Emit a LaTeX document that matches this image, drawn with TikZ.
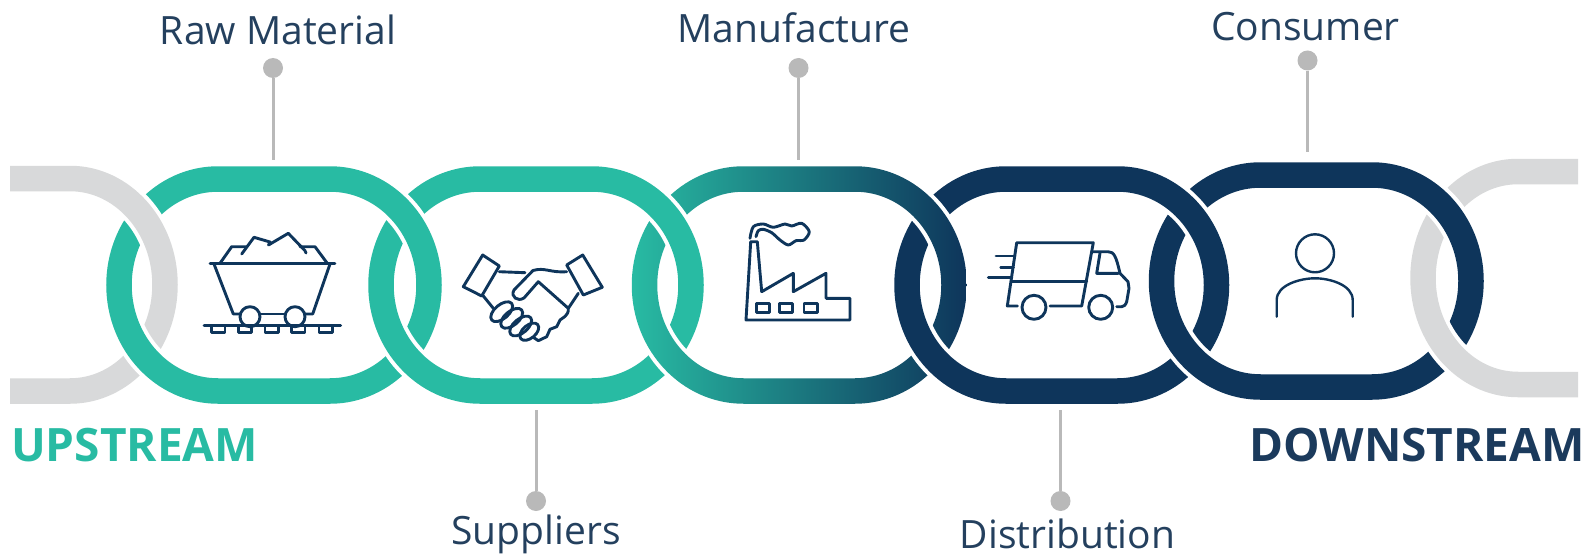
\documentclass[tikz,border=0pt]{standalone}
\usepackage{fontspec}
\setmainfont{Open Sans}
\usepackage{xcolor}
\usetikzlibrary{positioning}
\definecolor{linkteal}{HTML}{28BBA3}
\definecolor{linknavy}{HTML}{0E355B}
\definecolor{linkmid}{HTML}{1A6A7A}
\definecolor{linkgrey}{HTML}{D8D9DA}
\definecolor{labelink}{HTML}{24405E}
\definecolor{downink}{HTML}{1B3A5C}
\definecolor{leadgrey}{HTML}{B9B9B9}
\tikzset{
    steplabel/.style={text=labelink,font=\fontsize{39}{44}\selectfont,inner sep=0pt},
    endlabel/.style={font=\fontsize{46}{50}\selectfont\bfseries,inner sep=0pt},
    leaddot/.style={circle,fill=leadgrey,minimum size=20pt,inner sep=0pt},
    leader/.style={draw=leadgrey,line width=3pt},
    halo/.style={draw=white,line width=33.5pt},
    band/.style={line width=25.5pt},
    icon/.style={draw=linknavy,line width=2.9pt,line join=round,line cap=round},
}
\newcommand{\linkpath}[5]{(#1+#5,#3) -- (#2-#5,#3) arc[start angle=-90,end angle=90,x radius=#5,y radius={((#4)-(#3))/2}] -- (#1+#5,#4) arc[start angle=90,end angle=270,x radius=#5,y radius={((#4)-(#3))/2}] -- cycle}
\newcommand{\chainlink}[5]{%
    \draw[halo] \linkpath{#1}{#2}{#3}{#4}{99};
    \draw[band,draw=#5] \linkpath{#1}{#2}{#3}{#4}{99};
}
\newcommand{\gradlink}[4]{%
    \draw[halo] \linkpath{#1}{#2}{#3}{#4}{99};
    \shade[even odd rule,left color=linkteal,middle color=linkmid,right color=linknavy]
        \linkpath{#1-12.75}{#2+12.75}{#3-12.75}{#4+12.75}{111.75}
        \linkpath{#1+12.75}{#2-12.75}{#3+12.75}{#4-12.75}{86.25};
}
\newcommand{\greyleft}{%
    \draw[halo] (10,178.5) -- (70,178.5) arc[start angle=-90,end angle=90,x radius=95,y radius=106.25] -- (10,391);
    \draw[band,draw=linkgrey] (10,178.5) -- (70,178.5) arc[start angle=-90,end angle=90,x radius=95,y radius=106.25] -- (10,391);
}
\newcommand{\greyright}{%
    \draw[halo] (1578,171.5) -- (1518,171.5) arc[start angle=270,end angle=90,x radius=95,y radius=106.5] -- (1578,384.5);
    \draw[band,draw=linkgrey] (1578,171.5) -- (1518,171.5) arc[start angle=270,end angle=90,x radius=95,y radius=106.5] -- (1578,384.5);
}
\begin{document}
\begin{tikzpicture}[x=1pt,y=-1pt]
        \useasboundingbox (0,0) rectangle (1587,559);
        \begin{scope}
            \clip (0,0) rectangle (1587,283);
            \greyright
            \chainlink{1161.5}{1471}{175}{387}{linknavy}
            \chainlink{907}{1216.5}{179}{391}{linknavy}
            \gradlink{644.5}{954}{179}{391}
            \chainlink{381}{691}{179}{391}{linkteal}
            \chainlink{119}{429}{179}{391}{linkteal}
            \greyleft
        \end{scope}
        \begin{scope}
            \clip (0,283) rectangle (1587,559);
            \greyleft
            \chainlink{119}{429}{179}{391}{linkteal}
            \chainlink{381}{691}{179}{391}{linkteal}
            \gradlink{644.5}{954}{179}{391}
            \chainlink{907}{1216.5}{179}{391}{linknavy}
            \chainlink{1161.5}{1471}{175}{387}{linknavy}
            \greyright
        \end{scope}
        \node[steplabel] (rawlabel) at (278,30) {Raw Material};
        \node[steplabel] (manulabel) at (794,28) {Manufacture};
        \node[steplabel] (conslabel) at (1305.5,27) {Consumer};
        \node[steplabel] (supplabel) at (536,534) {Suppliers};
        \node[steplabel] (distlabel) at (1067.5,534) {Distribution};
        \node[endlabel,text=linkteal,anchor=west] (uplabel) at (11,445) {UPSTREAM};
        \node[endlabel,text=downink,anchor=east] (downlabel) at (1585,445) {DOWNSTREAM};
        \node[leaddot] (rawdot) at (273,68) {};
        \node[leaddot] (manudot) at (798.5,68) {};
        \node[leaddot] (consdot) at (1307.5,60.5) {};
        \node[leaddot] (suppdot) at (536,501) {};
        \node[leaddot] (distdot) at (1060.5,501) {};
        \coordinate (rawend) at (273,160);
        \coordinate (manuend) at (798.5,160);
        \coordinate (consend) at (1307.5,152);
        \coordinate (suppend) at (536,410);
        \coordinate (distend) at (1060.5,410);
        \draw[leader] (rawdot)--(rawend);
        \draw[leader] (manudot)--(manuend);
        \draw[leader] (consdot)--(consend);
        \draw[leader] (suppdot)--(suppend);
        \draw[leader] (distdot)--(distend);
        \begin{scope}[icon]
            \draw (210,263.3)--(335,263.3);
            \draw (214,264)--(233.3,314)--(240,314);
            \draw (260,314)--(285,314);
            \draw (305,314)--(312.7,314)--(330,264);
            \draw (250,316.7) circle (10);
            \draw (295,316.7) circle (10);
            \draw (220,263.3)--(231.7,246.7)--(246,246.7);
            \draw (241.7,254)--(254,237.3)--(270,242)--(268.5,245)--(288.3,233.3)--(305,250.7)--(306,253);
            \draw (300,246.7)--(315,246.7)--(327.3,263.3);
            \draw (204,325.7)--(340.7,325.7);
            \draw (211.7,325.7) rectangle +(13.3,6.6);
            \draw (238.3,325.7) rectangle +(13.3,6.6);
            \draw (265,325.7) rectangle +(13.3,6.6);
            \draw (291.7,325.7) rectangle +(13.3,6.6);
            \draw (319,325.7) rectangle +(13.3,6.6);
        \end{scope}
        \begin{scope}[icon]
            \draw (482.7,255)--(499.3,266)--(481.7,296)--(463.3,286.7)--cycle;
            \draw (582.7,255)--(566.7,265)--(583.3,295)--(602.3,287.3)--cycle;
            \draw (499.3,271.7)--(525,272.7);
            \draw (566.7,271.7) .. controls (550,273) and (545,267) .. (533,270.5) -- (514,290) .. controls (510,297) and (518,302) .. (524,298) -- (538.3,281.7) -- (568.3,308.3);
            \draw (578.3,293.3)--(568.3,308.3) .. controls (569,316) and (562,318) .. (560,320) -- (556.7,326.7) -- (550,329.3) -- (546.7,336.7) -- (538.3,340.7) -- (533.3,337.3);
            \draw (483.3,296)--(493.3,308.3);
            \draw[shift={(501.7,311.7)},rotate=40] (0,0) ellipse [x radius=13,y radius=7];
            \draw[shift={(511.7,318.3)},rotate=40] (0,0) ellipse [x radius=13,y radius=7];
            \draw[shift={(520.7,326)},rotate=40] (0,0) ellipse [x radius=13,y radius=7];
            \draw[shift={(529.3,331.7)},rotate=40] (0,0) ellipse [x radius=11,y radius=6.5];
        \end{scope}
        \begin{scope}[icon]
            \draw (746,320)--(750.7,241.7)--(757.3,241.7)--(761.7,291.7)--(793.3,273.3)--(793.3,291.7)--(826,273.3)--(826,298.3)--(850,298.3)--(850,320)--cycle;
            \draw (756.7,303.3) rectangle (769.3,312.7);
            \draw (779.3,303.3) rectangle (792.7,312.7);
            \draw (804,303.3) rectangle (817.3,312.7);
            \draw plot[smooth] coordinates {(750,238.3) (753.3,226.7) (763.3,224) (773.3,227.3) (785,224) (791.7,226) (801.7,223.3) (809.3,231.7) (804,240) (796,240.7) (788.3,245) (780,240) (771.7,232.7) (763.3,229.3) (758.3,230.7) (756,236.7)};
        \end{scope}
        \begin{scope}[icon]
            \draw (1017.3,306)--(1007.3,306)--(1016.7,242.7)--(1093.3,242.7)--(1081.7,306)--(1050,306);
            \draw (1012.3,281.7)--(1086.7,281.7);
            \draw (996,256)--(1015,256);
            \draw (1000.7,267.3)--(1013.3,267.3);
            \draw (988.3,277.3)--(1011.7,277.3);
            \draw (1034,307.3) circle (12);
            \draw (1100.7,307.3) circle (12);
            \draw (1093.3,251.7)--(1108,251.7) .. controls (1114,251.7) and (1116,256) .. (1120,273.3)--(1128,281.7)--(1129,288.3)--(1126.7,301.7) .. controls (1125.5,305) and (1124,306.7) .. (1121.7,306.7)--(1116.7,306.7);
            \draw (1100,253)--(1096.7,273.3)--(1118.3,273.3);
        \end{scope}
        \begin{scope}[icon,line width=2.4pt]
            \draw (1315,253.3) circle (19);
            \draw (1276.7,316.7)--(1276.7,300) .. controls (1276.7,285) and (1300,278.3) .. (1315,278.3) .. controls (1330,278.3) and (1352.7,285) .. (1352.7,300)--(1352.7,316.7);
        \end{scope}
    \end{tikzpicture}
\end{document}
